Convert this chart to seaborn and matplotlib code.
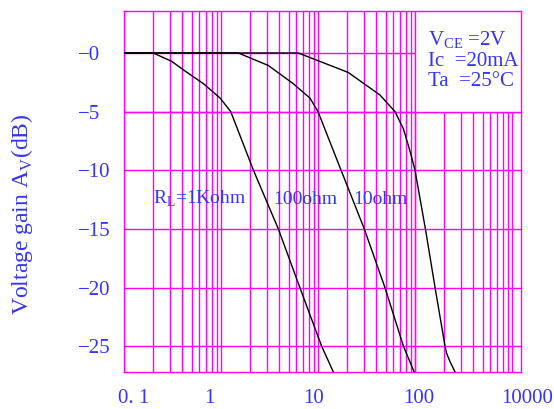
import numpy as np
import pandas as pd
import matplotlib
matplotlib.use("Agg")
import matplotlib.pyplot as plt
from matplotlib.patches import Rectangle
from matplotlib.ticker import LogLocator, NullFormatter
from matplotlib.transforms import ScaledTranslation
import seaborn as sns

# curves (freq in MHz, gain in dB)
freq_1k = [0.1, 0.2, 0.31, 0.425, 0.66, 0.98, 1.26, 2.16, 3.9, 6.5, 10.9, 14.4]
gain_1k = [0, 0, -0.71, -1.53, -2.62, -3.85, -5.0, -10, -15, -20, -25, -27.2]

freq_100 = [0.1, 1.51, 3.08, 5.56, 8.27, 10.0, 17.3, 30, 49, 76, 98]
gain_100 = [0, 0, -1.07, -2.62, -3.85, -5.0, -10, -15, -20, -25, -27.2]

freq_10 = [0.1, 6.27, 20.5, 43.5, 62.2, 75.9, 88.7, 100, 128, 161, 204, 212, 230, 258]
gain_10 = [0, 0, -1.66, -3.58, -5.0, -6.46, -8.35, -10, -15, -20, -25, -25.62, -26.33, -27.18]

y_ticks = [0, -5, -10, -15, -20, -25]
y_ticklabels = ["\u22120", "\u22125", "\u221210", "\u221215", "\u221220", "\u221225"]
x_ticks = [0.127, 0.75, 8.9, 110, 1238]
x_ticklabels = ["0. 1", "1", "10", "100", "10000"]

df = pd.concat([
    pd.DataFrame({"freq": freq_1k, "gain": gain_1k, "load": "1K"}),
    pd.DataFrame({"freq": freq_100, "gain": gain_100, "load": "100"}),
    pd.DataFrame({"freq": freq_10, "gain": gain_10, "load": "10"}),
])

sns.set_style("white")
plt.rcParams['font.family'] = ['Liberation Serif', 'DejaVu Serif']
plt.rcParams['mathtext.fontset'] = 'custom'
plt.rcParams['mathtext.rm'] = 'Liberation Serif'

blue = "#3333ff"
pink = "#ff00ff"

fig = plt.figure(figsize=(5.54, 4.09), dpi=100)
ax = fig.add_axes([124 / 554, 37 / 409, 397 / 554, 361 / 409])

sns.lineplot(data=df, x="freq", y="gain", hue="load", palette=["black"] * 3,
             estimator=None, sort=False, legend=False, lw=1.0, ax=ax, zorder=3)

ax.set_xscale("log")
ax.set_xlim(0.1, 1238)
ax.set_ylim(-27.2, 3.58)

# log grid (every 1..9 of each decade) and dB grid every 5
ax.xaxis.set_minor_locator(LogLocator(base=10, subs=np.arange(1, 10), numticks=50))
ax.xaxis.set_minor_formatter(NullFormatter())
ax.set_xticks(x_ticks)
ax.set_xticklabels(x_ticklabels)
ax.set_yticks(y_ticks)
ax.set_yticklabels(y_ticklabels)
ax.set_axisbelow(True)
ax.grid(which="minor", axis="x", color=pink, lw=1.0)
ax.grid(which="major", axis="y", color=pink, lw=1.0)
ax.grid(which="major", axis="x", visible=False)
ax.tick_params(axis="both", which="both", length=0, colors=blue, labelsize=15)
ax.tick_params(axis="x", pad=12)
ax.tick_params(axis="y", pad=33)
for lbl in ax.get_yticklabels():
    lbl.set_horizontalalignment("left")
# the last label sits a bit right of the frame in the original
last = ax.get_xticklabels()[-1]
last.set_transform(last.get_transform() + ScaledTranslation(6 / 100, 0, fig.dpi_scale_trans))
for sp in ax.spines.values():
    sp.set_color(pink)
    sp.set_linewidth(1.0)
ax.set_xlabel("")
ax.set_ylabel("")

# white box for the conditions
ax.add_patch(Rectangle((100, -5), 1238 - 100, 3.58 + 5, facecolor="white",
                       edgecolor="none", zorder=0.8))
ax.axvline(100, color=pink, lw=1.0, zorder=0.9)
ax.axhline(-5, color=pink, lw=1.0, zorder=0.9)

ax.text(137, 1.05, "V$_\\mathregular{CE}$ =2V", color=blue, fontsize=15, va="center")
ax.text(137, -0.74, "Ic  =20mA", color=blue, fontsize=15, va="center")
ax.text(137, -2.45, "Ta  =25\u00b0C", color=blue, fontsize=15, va="center")

ax.text(0.2, -12.45, "R$_\\mathregular{L}$=1Kohm", color=blue, fontsize=14, va="center")
ax.text(3.46, -12.45, "100ohm", color=blue, fontsize=14, va="center")
ax.text(23.1, -12.45, "10ohm", color=blue, fontsize=14, va="center")

fig.text(22 / 554, 1 - 214 / 409, "Voltage gain A$_\\mathregular{V}$(dB)", color=blue,
         fontsize=17, rotation=90, ha="center", va="center")

fig.savefig("out.png", dpi=100)
